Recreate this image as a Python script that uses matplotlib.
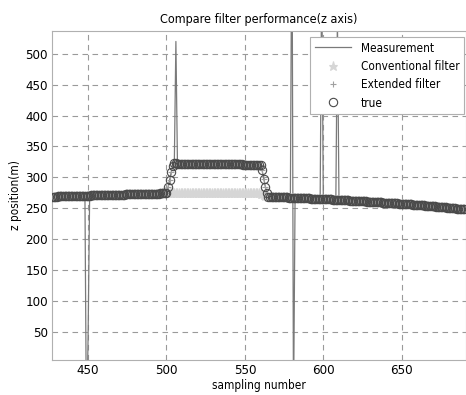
import numpy as np
import matplotlib
matplotlib.use("Agg")
import matplotlib.pyplot as plt

# sampling numbers shown in the chart
samples = list(range(427, 691))

# true z position (m), one value per sample 427..690
true_z = [
    268.6, 268.7, 268.7, 268.8, 268.9, 269.0, 269.0, 269.1, 269.2, 269.3,
    269.3, 269.4, 269.5, 269.6, 269.6, 269.7, 269.8, 269.9, 269.9, 270.0,
    270.1, 270.2, 270.2, 270.3, 270.4, 270.5, 270.5, 270.6, 270.7, 270.8,
    270.8, 270.9, 271.0, 271.1, 271.1, 271.2, 271.3, 271.4, 271.4, 271.5,
    271.6, 271.7, 271.7, 271.8, 271.9, 272.0, 272.0, 272.1, 272.2, 272.3,
    272.3, 272.4, 272.5, 272.6, 272.6, 272.7, 272.8, 272.9, 272.9, 273.0,
    273.1, 273.2, 273.2, 273.3, 273.4, 273.5, 273.5, 273.6, 273.7, 273.8,
    273.8, 273.9, 274.0, 274.1,
    284.0, 296.0, 308.0, 318.0,
    322.4, 322.4, 322.3, 322.3, 322.2, 322.2, 322.2, 322.1, 322.1, 322.0,
    322.0, 322.0, 321.9, 321.9, 321.8, 321.8, 321.8, 321.7, 321.7, 321.6,
    321.6, 321.6, 321.5, 321.5, 321.4, 321.4, 321.4, 321.3, 321.3, 321.2,
    321.2, 321.2, 321.1, 321.1, 321.0, 321.0, 321.0, 320.9, 320.9, 320.8,
    320.8, 320.8, 320.7, 320.7, 320.6, 320.6, 320.6, 320.5, 320.5, 320.4,
    320.4, 320.4, 320.3, 320.3, 320.2, 320.2,
    311.0, 298.0, 285.0, 274.0,
    268.5, 268.4, 268.3, 268.2, 268.1, 268.0, 267.9, 267.8, 267.7, 267.6,
    267.5, 267.4, 267.3, 267.2, 267.1, 267.0, 266.9, 266.8, 266.7, 266.5,
    266.4, 266.3, 266.2, 266.1, 266.0, 265.8, 265.7, 265.6, 265.5, 265.4,
    265.2, 265.1, 265.0, 264.9, 264.7, 264.6, 264.5, 264.4, 264.2, 264.1,
    264.0, 263.8, 263.7, 263.6, 263.4, 263.3, 263.2, 263.0, 262.9, 262.8,
    262.6, 262.5, 262.3, 262.2, 262.1, 261.9, 261.8, 261.6, 261.5, 261.3,
    261.2, 261.0, 260.9, 260.7, 260.6, 260.4, 260.3, 260.1, 259.9, 259.8,
    259.6, 259.5, 259.3, 259.1, 259.0, 258.8, 258.6, 258.5, 258.3, 258.1,
    257.9, 257.8, 257.6, 257.4, 257.2, 257.0, 256.9, 256.7, 256.5, 256.3,
    256.1, 255.9, 255.7, 255.5, 255.3, 255.1, 254.9, 254.7, 254.5, 254.3,
    254.1, 253.9, 253.7, 253.5, 253.3, 253.0, 252.8, 252.6, 252.4, 252.1,
    251.9, 251.7, 251.4, 251.2, 250.9, 250.7, 250.4, 250.2, 249.9, 249.7,
    249.4, 249.1, 248.9, 248.6, 248.3, 248.0,
]

# conventional filter does not follow the step: values for samples 501..564
conv_start = 501
conv_step_z = [
    274.2, 274.1, 274.3, 274.2, 274.0, 274.3, 274.1, 274.2, 274.4, 274.1,
    274.2, 274.3, 274.0, 274.2, 274.1, 274.3, 274.2, 274.4, 274.1, 274.2,
    274.0, 274.3, 274.2, 274.1, 274.3, 274.2, 274.0, 274.2, 274.4, 274.1,
    274.2, 274.3, 274.1, 274.2, 274.0, 274.3, 274.2, 274.1, 274.3, 274.2,
    274.1, 274.2, 274.3, 274.0, 274.2, 274.1, 274.3, 274.2, 274.4, 274.1,
    274.2, 274.0, 274.3, 274.2, 274.1, 274.3, 274.2, 274.1, 274.0, 273.6,
    272.8, 271.5, 270.2, 269.0,
]

# outliers in the measurement (sample: z)
spikes = {449: -120.0, 450: 40.0, 506: 520.0, 580: 760.0, 581: -80.0,
          599: 640.0, 609: 560.0}

x = np.array(samples)
true_arr = np.array(true_z)
meas = true_arr.copy()
for s, v in spikes.items():
    meas[s - samples[0]] = v
conv = true_arr.copy()
i0 = conv_start - samples[0]
conv[i0:i0 + len(conv_step_z)] = conv_step_z

plt.rcParams['font.family'] = ['DejaVu Sans']
plt.rcParams['font.stretch'] = 'condensed'

fig = plt.figure(figsize=(4.66, 3.95), dpi=100)
ax = fig.add_axes([0.1116, 0.0886, 0.8884, 0.833])

ax.plot(x, meas, color='#7a7a7a', lw=0.9, label='Measurement', zorder=2)
ax.plot(x, conv, ls='none', marker='*', ms=6.5, color='#d6d6d6', mew=0.8,
        label='Conventional filter', zorder=3)
ax.plot(x, true_arr, ls='none', marker='+', ms=5, color='#a0a0a0', mew=0.8,
        label='Extended filter', zorder=3)
ax.plot(x, true_arr, ls='none', marker='o', ms=6, mfc='none', mec='#4a4a4a',
        mew=0.8, label='true', zorder=4)

ax.set_xlim(427, 691)
ax.set_ylim(4, 537)
ax.set_xticks([450, 500, 550, 600, 650])
ax.set_yticks([50, 100, 150, 200, 250, 300, 350, 400, 450, 500])
ax.grid(True, ls=(0, (5, 4)), color='#9a9a9a', lw=0.8)
ax.tick_params(length=0, labelsize=9.5, pad=3)
for sp in ax.spines.values():
    sp.set_color('#b0b0b0')

ax.set_title('Compare filter performance(z axis)', fontsize=9, pad=6)
ax.set_xlabel('sampling number', fontsize=8.5, labelpad=1)
ax.set_ylabel('z position(m)', fontsize=8.5, labelpad=2)

leg = ax.legend(loc='upper left', bbox_to_anchor=(0.623, 0.982), fontsize=8.5,
                frameon=True, fancybox=False, edgecolor='#b0b0b0',
                handlelength=3.1, borderpad=0.4, labelspacing=0.45,
                handletextpad=0.8, borderaxespad=0, framealpha=1)
leg.get_frame().set_linewidth(0.8)

fig.savefig('out.png', dpi=100)
